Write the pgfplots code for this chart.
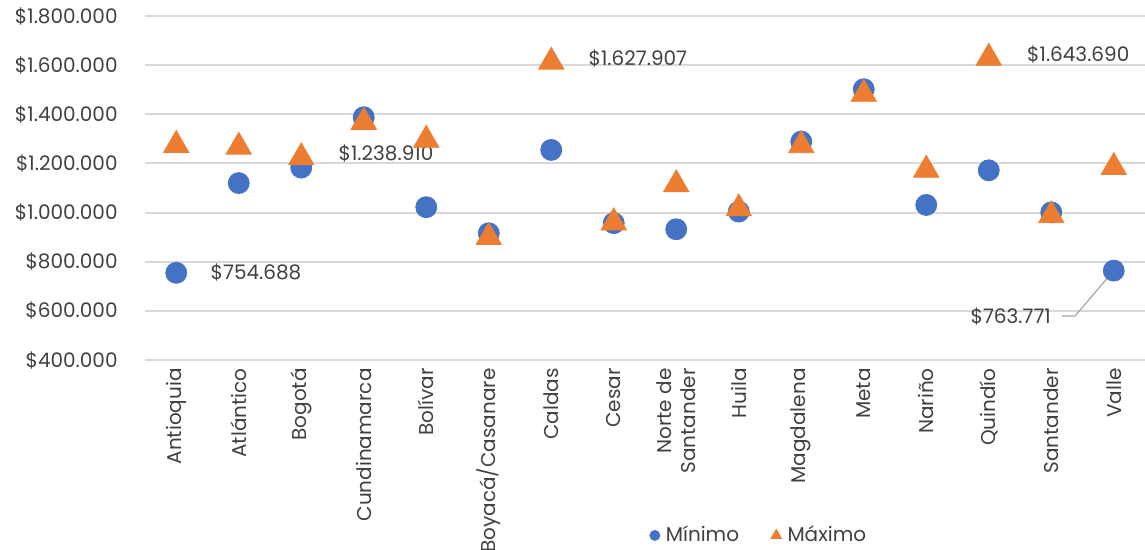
\documentclass[border=0pt]{standalone}
\usepackage{fontspec}
\setmainfont{Poppins}
\usepackage{pgfplots}
\pgfplotsset{compat=1.18}
\definecolor{minblue}{HTML}{4472C4}
\definecolor{maxorange}{HTML}{ED7D31}
\definecolor{gridgray}{HTML}{D9D9D9}
\definecolor{txtgray}{HTML}{404040}

\begin{document}
\begin{tikzpicture}[font=\fontsize{10}{12}\selectfont]
\path[use as bounding box] (-72.5pt,-95pt) rectangle (500pt,180pt);
\begin{axis}[
    scale only axis,
    width=500pt, height=172pt,
    xmin=-0.5, xmax=15.5,
    ymin=400000, ymax=1800000,
    ytick={400000,600000,800000,1000000,1200000,1400000,1600000,1800000},
    scaled y ticks=false,
    ymajorgrids,
    grid style={gridgray, line width=1pt},
    axis line style={draw=none},
    tick style={draw=none},
    xtick={0,...,15},
    xticklabels={Antioquia,Atlántico,Bogotá,Cundinamarca,Bolívar,Boyacá/Casanare,Caldas,Cesar,{Norte de\\Santander},Huila,Magdalena,Meta,Nariño,Quindío,Santander,Valle},
    xticklabel style={rotate=90, anchor=east, align=right, text=txtgray, inner sep=0pt},
    xticklabel shift=4pt,
    yticklabel={\$\pgfmathprintnumber{\tick}},
    yticklabel style={text=txtgray, inner sep=0pt, xshift=-13.5pt},
    /pgf/number format/.cd, fixed, precision=0, 1000 sep={.}, assume math mode=true,
    /pgfplots/.cd,
    legend style={at={(axis description cs:0.615,-0.51)}, anchor=center, draw=none, fill=none, text=txtgray, column sep=1pt,
        /tikz/every even column/.append style={column sep=14pt}},
    legend columns=2,
]
\addplot[only marks, mark=*, mark size=5.25pt, color=minblue, forget plot] coordinates {
(0,754688) (1,1120000) (2,1183000) (3,1388000) (4,1022000) (5,916000) (6,1255000) (7,957000)
(8,932000) (9,1004000) (10,1289000) (11,1502000) (12,1031000) (13,1172000) (14,1001000) (15,763771)};
\addplot[only marks, mark=triangle*, mark size=7.3pt, color=maxorange, mark options={yshift=-1.8pt}, forget plot] coordinates {
(0,1289000) (1,1282000) (2,1238910) (3,1383000) (4,1310000) (5,914000) (6,1627907) (7,974000)
(8,1129000) (9,1031000) (10,1288000) (11,1497000) (12,1188000) (13,1643690) (14,1003000) (15,1199000)};
\addlegendimage{only marks, mark=*, mark size=2.5pt, color=minblue}
\addlegendentry{Mínimo}
\addlegendimage{only marks, mark=triangle*, mark size=3pt, color=maxorange}
\addlegendentry{Máximo}
\node[anchor=west, inner sep=0pt, xshift=17pt, text=txtgray] at (axis cs:0,754688) {\$754.688};
\node[anchor=west, inner sep=0pt, xshift=18.5pt, text=txtgray] at (axis cs:2,1238910) {\$1.238.910};
\node[anchor=west, inner sep=0pt, xshift=18.5pt, text=txtgray] at (axis cs:6,1627907) {\$1.627.907};
\node[anchor=west, inner sep=0pt, xshift=19pt, text=txtgray] at (axis cs:13,1643690) {\$1.643.690};
\node[anchor=east, inner sep=0pt, text=txtgray] at (axis cs:14.0,579000) {\$763.771};
\draw[gray!70, line width=0.6pt] (axis cs:14.17,579000) -- (axis cs:14.38,579000) -- (axis cs:15,763771);
\end{axis}
\end{tikzpicture}
\end{document}
